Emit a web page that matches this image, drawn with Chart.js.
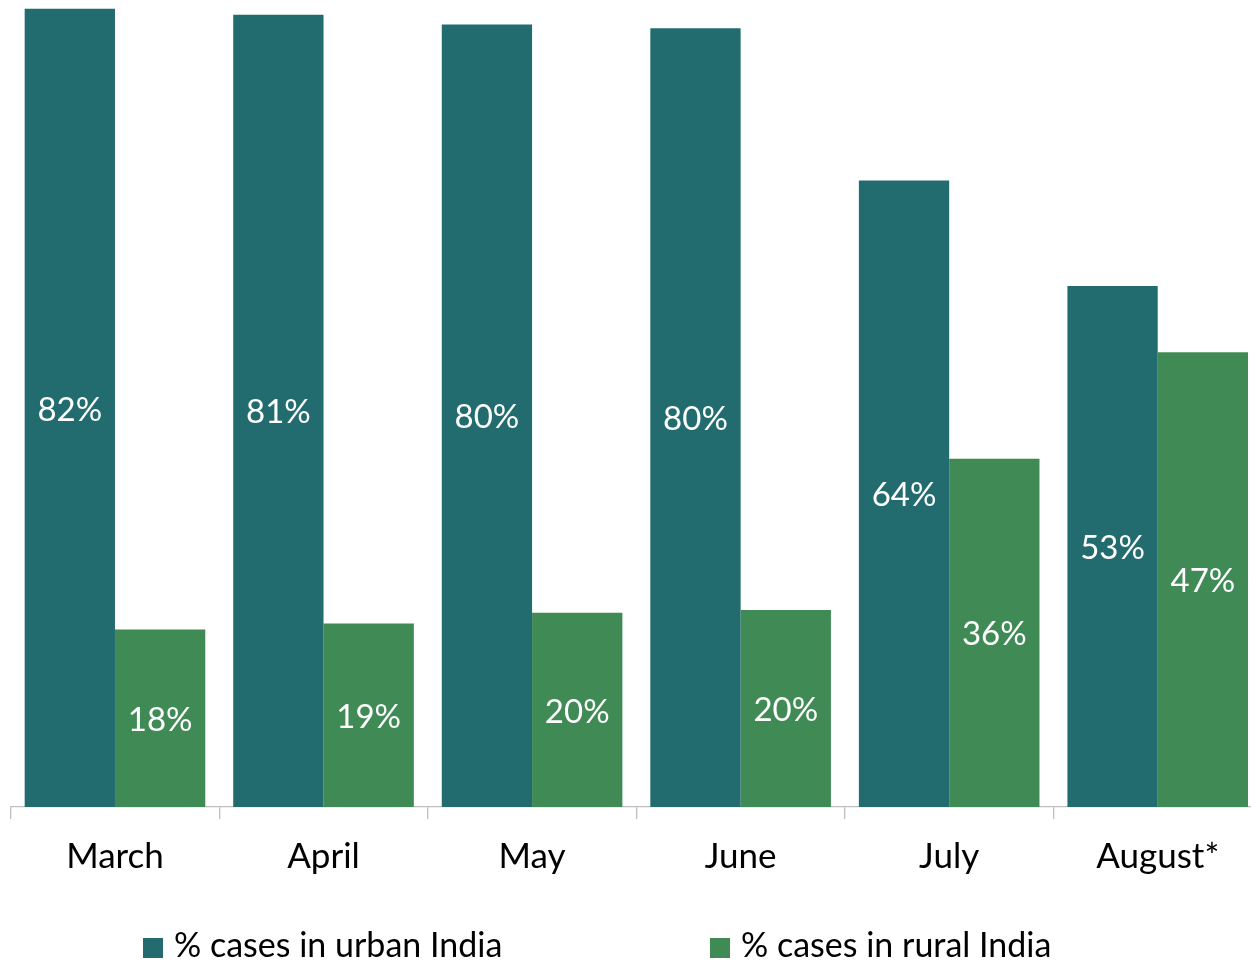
<!DOCTYPE html>
<html>
<head>
<meta charset="utf-8">
<script src="https://cdn.jsdelivr.net/npm/chart.js@4"></script>
<style>
  html, body { margin: 0; padding: 0; background: #fff; overflow: hidden; }
  #wrap { position: relative; width: 1251px; height: 963px; }
  canvas { position: absolute; left: 0; top: 0; }
  .leg { position: absolute; top: 924px; font-family: Lato, sans-serif; font-size: 34px; color: #000; white-space: nowrap; line-height: 40px; }
  .leg i { display: inline-block; width: 20px; height: 20px; margin-right: 11px; vertical-align: -1px; }
</style>
</head>
<body>
<div id="wrap">
  <canvas id="chart" width="1262" height="963"></canvas>
  <div class="leg" style="left:143px"><i style="background:#226C70"></i>% cases in urban India</div>
  <div class="leg" style="left:710px"><i style="background:#3F8A55"></i>% cases in rural India</div>
</div>
<script>
const months = ['March', 'April', 'May', 'June', 'July', 'August*'];
const urban = [81.8, 81.2, 80.2, 79.8, 64.2, 53.4];
const rural = [18.2, 18.8, 19.9, 20.2, 35.7, 46.6];

const urbanColor = '#226C70';
const ruralColor = '#3F8A55';

// white percentage labels in the middle of each bar
const barLabels = {
    id: 'barLabels',
    afterDatasetsDraw(chart) {
        const ctx = chart.ctx;
        ctx.save();
        ctx.fillStyle = '#fff';
        ctx.font = '33px Lato, sans-serif';
        ctx.textAlign = 'center';
        ctx.textBaseline = 'middle';
        chart.data.datasets.forEach((ds, i) => {
            chart.getDatasetMeta(i).data.forEach((bar, j) => {
                ctx.fillText(Math.round(ds.data[j]) + '%', bar.x, (bar.y + bar.base) / 2 + 2);
            });
        });
        ctx.restore();
    }
};

new Chart(document.getElementById('chart'), {
    type: 'bar',
    data: {
        labels: months,
        datasets: [
            { label: '% cases in urban India', data: urban, backgroundColor: urbanColor },
            { label: '% cases in rural India', data: rural, backgroundColor: ruralColor }
        ]
    },
    options: {
        responsive: false,
        animation: false,
        layout: { padding: { left: 10.7, right: 0, top: 0, bottom: 0 } },
        plugins: { legend: { display: false }, tooltip: { enabled: false } },
        datasets: { bar: { categoryPercentage: 0.866, barPercentage: 1 } },
        scales: {
            x: {
                grid: { display: true, drawOnChartArea: false, tickLength: 12, color: '#BFBFBF', lineWidth: 1.3 },
                border: { display: true, color: '#BFBFBF', width: 1.3 },
                ticks: { color: '#000', font: { family: 'Lato, sans-serif', size: 35 }, padding: 17, maxRotation: 0 },
                afterFit(scale) { scale.height = 156; }
            },
            y: { display: false, min: 0, max: 82.7 }
        }
    },
    plugins: [barLabels]
});
</script>
</body>
</html>
